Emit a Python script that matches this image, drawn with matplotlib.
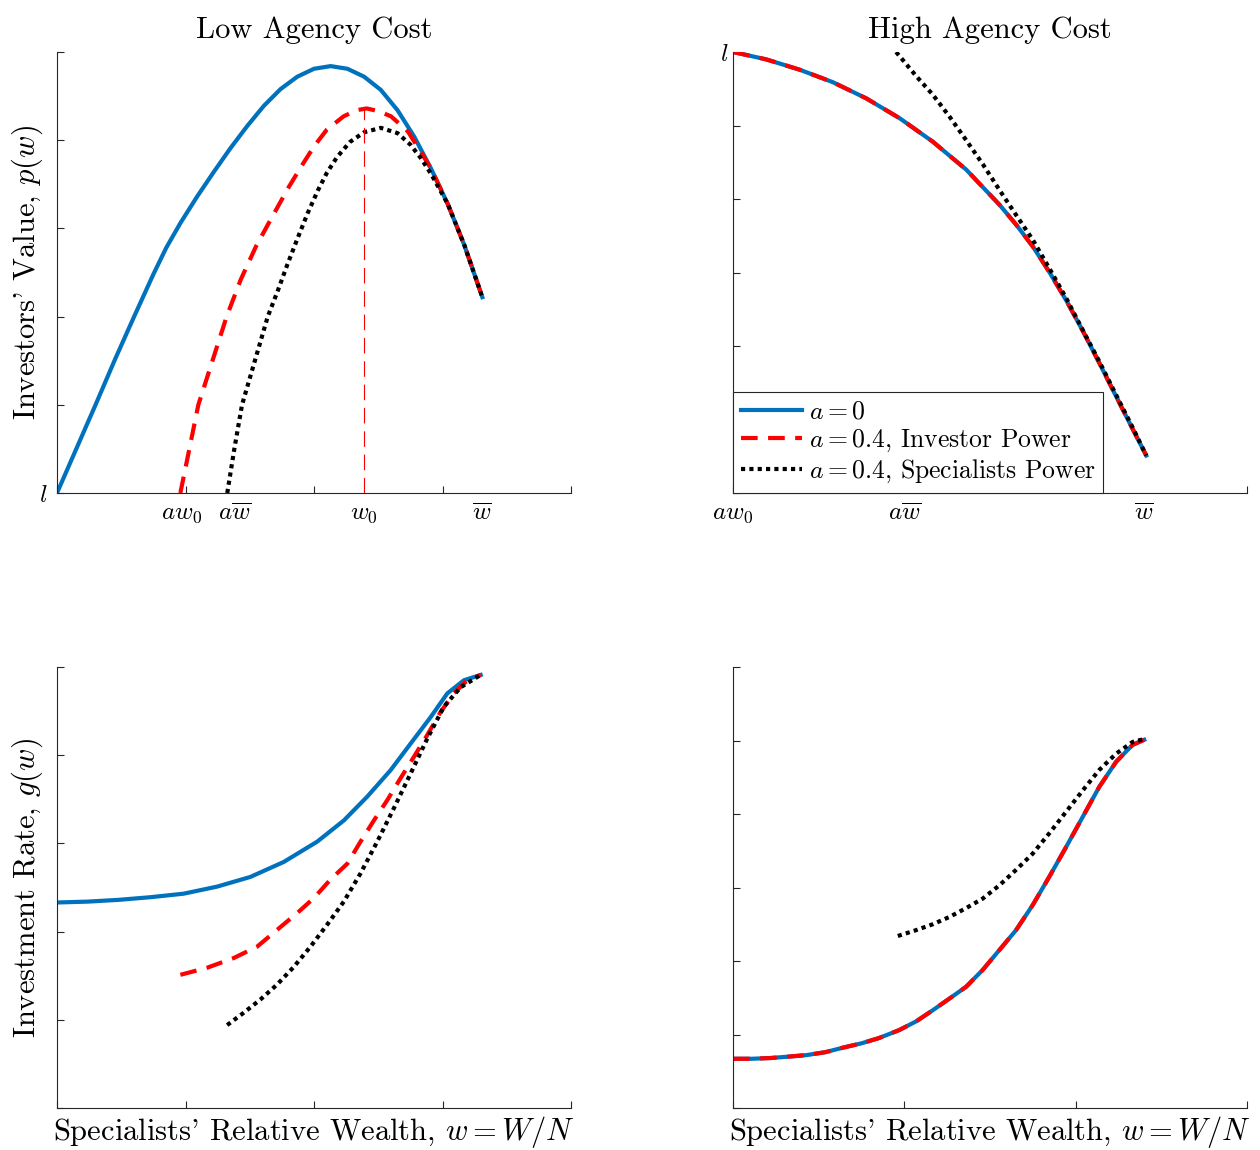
import numpy as np
import matplotlib
matplotlib.use('Agg')
import matplotlib.pyplot as plt

plt.rcParams['font.family'] = 'serif'
plt.rcParams['font.serif'] = ['cmr10']
plt.rcParams['mathtext.fontset'] = 'cm'
plt.rcParams['axes.unicode_minus'] = False

# ---- Low agency cost: investors' value p(w)
pL_blue_x = [0, 0.15, 0.30, 0.45, 0.60, 0.75, 0.85, 0.96, 1.09, 1.22, 1.35, 1.48, 1.61, 1.74, 1.87, 2.00,
             2.13, 2.26, 2.39, 2.52, 2.65, 2.78, 2.91, 3.04, 3.17, 3.31]
pL_blue_y = [0, 0.50, 1.00, 1.51, 2.00, 2.48, 2.78, 3.06, 3.36, 3.64, 3.91, 4.16, 4.39, 4.58, 4.72, 4.81,
             4.84, 4.81, 4.72, 4.57, 4.34, 4.04, 3.68, 3.28, 2.81, 2.22]
pL_red_x = [0.96, 1.03, 1.10, 1.21, 1.32, 1.43, 1.55, 1.64, 1.72, 1.80, 1.90, 2.00, 2.10, 2.23, 2.33, 2.41,
            2.50, 2.60, 2.73, 2.83, 2.91, 3.04, 3.17, 3.31]
pL_red_y = [0, 0.50, 1.00, 1.50, 2.00, 2.42, 2.80, 3.04, 3.25, 3.46, 3.70, 3.93, 4.12, 4.27, 4.34, 4.36,
            4.33, 4.27, 4.10, 3.87, 3.68, 3.28, 2.81, 2.22]
pL_blk_x = [1.325, 1.38, 1.44, 1.54, 1.64, 1.72, 1.79, 1.87, 1.95, 2.03, 2.10, 2.18, 2.28, 2.39, 2.52,
            2.65, 2.75, 2.83, 2.91, 3.04, 3.17, 3.31]
pL_blk_y = [0, 0.50, 1.00, 1.50, 2.00, 2.30, 2.58, 2.88, 3.17, 3.43, 3.63, 3.81, 3.98, 4.09, 4.14,
            4.08, 3.95, 3.80, 3.62, 3.28, 2.81, 2.22]
w0_low = 2.39
xlabs_low = [r'$aw_0$', r'$a\overline{w}$', r'$w_0$', r'$\overline{w}$']
xlabs_low_pos = [0.97, 1.38, 2.39, 3.31]

# ---- High agency cost: investors' value p(w)
pH_blue_x = [0, 0.193, 0.388, 0.582, 0.777, 0.972, 1.166, 1.361, 1.556, 1.653, 1.751, 1.848, 1.945,
             2.043, 2.14, 2.237, 2.335, 2.412]
pH_blue_y = [6.0, 5.90, 5.76, 5.59, 5.37, 5.10, 4.78, 4.40, 3.92, 3.65, 3.35, 3.00, 2.62,
             2.20, 1.76, 1.31, 0.86, 0.51]
pH_red_x = pH_blue_x
pH_red_y = pH_blue_y
pH_blk_x = [0.952, 1.07, 1.166, 1.264, 1.361, 1.459, 1.556, 1.653, 1.751, 1.848, 1.945, 2.043, 2.14,
            2.237, 2.335, 2.412]
pH_blk_y = [6.0, 5.67, 5.42, 5.12, 4.80, 4.47, 4.12, 3.78, 3.44, 3.05, 2.65, 2.21, 1.78,
            1.33, 0.88, 0.51]
xlabs_high = [r'$aw_0$', r'$a\overline{w}$', '', '']
w_bar_high = 2.40

# ---- Low agency cost: investment rate g(w)
gL_blue_x = [0, 0.24, 0.48, 0.727, 0.986, 1.246, 1.505, 1.765, 2.025, 2.232, 2.414, 2.596, 2.751, 2.907,
             3.037, 3.167, 3.297]
gL_blue_y = [2.33, 2.34, 2.36, 2.39, 2.43, 2.51, 2.62, 2.79, 3.02, 3.26, 3.53, 3.83, 4.13, 4.43,
             4.70, 4.85, 4.91]
gL_red_x = [0.96, 1.168, 1.375, 1.558, 1.713, 1.869, 1.999, 2.128, 2.259, 2.362, 2.466, 2.570, 2.674,
            2.777, 2.882, 2.985, 3.089, 3.193, 3.297]
gL_red_y = [1.51, 1.59, 1.70, 1.83, 2.02, 2.21, 2.38, 2.59, 2.77, 3.02, 3.26, 3.49, 3.74,
            3.98, 4.23, 4.49, 4.70, 4.85, 4.91]
gL_blk_x = [1.324, 1.453, 1.583, 1.713, 1.843, 1.973, 2.103, 2.232, 2.362, 2.492, 2.622, 2.751, 2.882,
            3.011, 3.141, 3.297]
gL_blk_y = [0.94, 1.08, 1.23, 1.40, 1.60, 1.83, 2.08, 2.34, 2.66, 3.02, 3.40, 3.79, 4.19,
            4.55, 4.77, 4.91]

# ---- High agency cost: investment rate g(w)
gH_blue_x = [0, 0.11, 0.22, 0.33, 0.43, 0.54, 0.64, 0.75, 0.85, 0.97, 1.07, 1.166, 1.264, 1.361, 1.458,
             1.555, 1.652, 1.749, 1.847, 1.944, 2.041, 2.138, 2.236, 2.332, 2.400]
gH_blue_y = [0.67, 0.67, 0.68, 0.70, 0.72, 0.76, 0.82, 0.88, 0.95, 1.06, 1.18, 1.33, 1.49, 1.65, 1.88,
             2.15, 2.42, 2.76, 3.15, 3.55, 3.96, 4.37, 4.71, 4.94, 5.01]
gH_red_x = gH_blue_x
gH_red_y = gH_blue_y
gH_blk_x = [0.962, 1.069, 1.166, 1.264, 1.361, 1.458, 1.555, 1.652, 1.749, 1.847, 1.944, 2.041, 2.138,
            2.236, 2.332, 2.400]
gH_blk_y = [2.34, 2.42, 2.50, 2.60, 2.72, 2.85, 3.03, 3.24, 3.46, 3.74, 4.03, 4.32, 4.60,
            4.82, 4.98, 5.02]

legend_labels = [r'$a=0$', r'$a=0.4$, Investor Power', r'$a=0.4$, Specialists Power']

style = {
    'blue': dict(color='#0072BD', linewidth=3, solid_joinstyle='round'),
    'red': dict(color='#FF0000', linewidth=3, linestyle=(0, (4, 2.5)), dash_capstyle='butt',
                dash_joinstyle='round'),
    'blk': dict(color='black', linewidth=3, linestyle=(0, (1, 1)), dash_capstyle='butt',
                dash_joinstyle='round'),
}
axcol = '#262626'
W, H = 1260, 1150

fig = plt.figure(figsize=(12.6, 11.5), dpi=100)
ax_tl = fig.add_axes([57 / W, 1 - 493 / H, 514 / W, 441 / H])
ax_tr = fig.add_axes([733 / W, 1 - 493 / H, 514 / W, 441 / H])
ax_bl = fig.add_axes([57 / W, 1 - 1108 / H, 514 / W, 441 / H])
ax_br = fig.add_axes([733 / W, 1 - 1108 / H, 514 / W, 441 / H])


def base(ax, nx, ny):
    ax.set_xlim(0, nx)
    ax.set_ylim(0, ny)
    ax.set_xticks(range(nx + 1))
    ax.set_yticks(range(ny + 1))
    ax.set_xticklabels([])
    ax.set_yticklabels([])
    for s in ['top', 'right']:
        ax.spines[s].set_visible(False)
    for s in ['left', 'bottom']:
        ax.spines[s].set_color(axcol)
        ax.spines[s].set_linewidth(0.8)
    ax.tick_params(which='major', direction='in', length=5, width=0.8, color=axcol,
                   labelsize=18, pad=7)
    ax.tick_params(which='minor', length=0, labelsize=18, pad=7)


base(ax_tl, 4, 5)
base(ax_tr, 3, 6)
base(ax_bl, 4, 5)
base(ax_br, 3, 6)

# top-left
ax_tl.plot(pL_blue_x, pL_blue_y, **style['blue'])
ax_tl.plot(pL_red_x, pL_red_y, **style['red'])
ax_tl.plot(pL_blk_x, pL_blk_y, **style['blk'])
ax_tl.vlines(w0_low, 0, max(pL_red_y), colors='#FF0000', linewidth=0.8, linestyles=(0, (14, 7)))
ax_tl.set_xticks(xlabs_low_pos, minor=True)
ax_tl.set_xticklabels(xlabs_low, minor=True)
ax_tl.set_yticklabels([r'$l$', '', '', '', '', ''])
ax_tl.tick_params(axis='y', which='major', pad=7)
ax_tl.set_title('Low Agency Cost', fontsize=22, pad=10)
ax_tl.set_ylabel("Investors' Value, $p(w)$", fontsize=22)
ax_tl.yaxis.set_label_coords(-0.024, 0.5)

# top-right
ax_tr.plot(pH_blue_x, pH_blue_y, **style['blue'])
ax_tr.plot(pH_red_x, pH_red_y, **style['red'])
ax_tr.plot(pH_blk_x, pH_blk_y, **style['blk'])
ax_tr.set_xticklabels(xlabs_high)
ax_tr.set_xticks([w_bar_high], minor=True)
ax_tr.set_xticklabels([r'$\overline{w}$'], minor=True)
ax_tr.set_yticklabels(['', '', '', '', '', '', r'$l$'])
ax_tr.tick_params(axis='y', which='major', pad=3)
ax_tr.set_title('High Agency Cost', fontsize=22, pad=10)
leg = ax_tr.legend(legend_labels, loc='lower left', bbox_to_anchor=(0, 0), borderaxespad=0,
                   fontsize=18.5, handlelength=2.4, handletextpad=0.25, labelspacing=0.15,
                   borderpad=0.3, fancybox=False, framealpha=1)
leg.get_frame().set_edgecolor(axcol)
leg.get_frame().set_linewidth(0.8)

# bottom-left
ax_bl.plot(gL_blue_x, gL_blue_y, **style['blue'])
ax_bl.plot(gL_red_x, gL_red_y, **style['red'])
ax_bl.plot(gL_blk_x, gL_blk_y, **style['blk'])
ax_bl.set_ylabel("Investment Rate, $g(w)$", fontsize=22)
ax_bl.yaxis.set_label_coords(-0.024, 0.5)
ax_bl.set_xlabel("Specialists' Relative Wealth, $w=W/N$", fontsize=22, labelpad=-3)

# bottom-right
ax_br.plot(gH_blue_x, gH_blue_y, **style['blue'])
ax_br.plot(gH_red_x, gH_red_y, **style['red'])
ax_br.plot(gH_blk_x, gH_blk_y, **style['blk'])
ax_br.set_xlabel("Specialists' Relative Wealth, $w=W/N$", fontsize=22, labelpad=-3)

plt.savefig('out.png', dpi=100)
